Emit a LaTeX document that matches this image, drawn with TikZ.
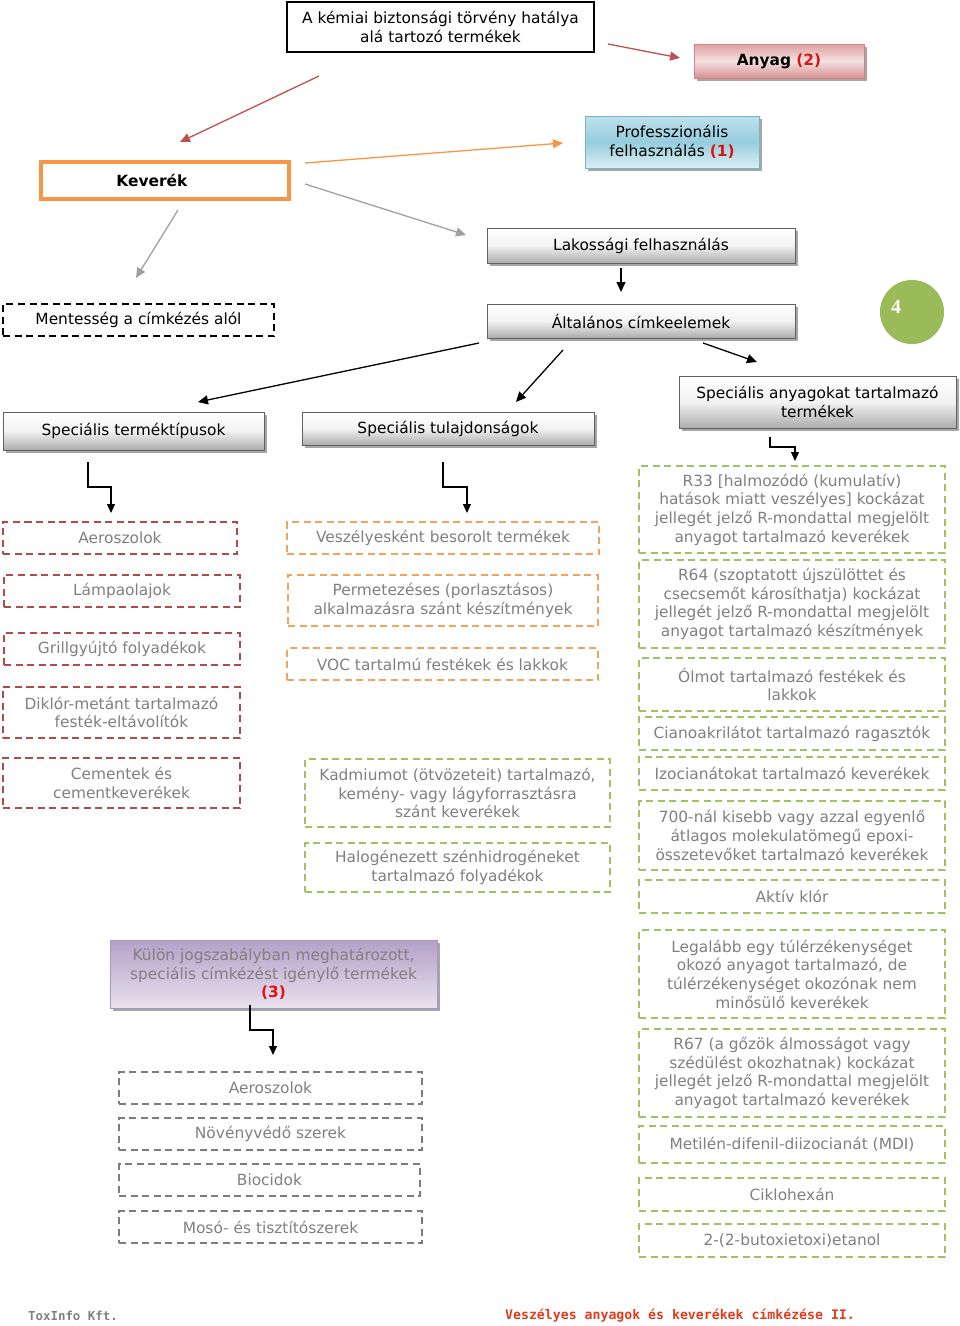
\documentclass[tikz,border=0pt]{standalone}
\usepackage{fontspec}
\setmainfont{DejaVu Sans}
\newfontfamily\footfont{DejaVu Sans Mono}
\newfontfamily\numfont{Liberation Serif}
\usetikzlibrary{arrows.meta,shadows}
\definecolor{redline}{RGB}{192,80,77}
\definecolor{orangeline}{RGB}{247,150,70}
\definecolor{grayline}{RGB}{160,160,160}
\definecolor{txtgray}{RGB}{128,128,128}
\definecolor{dashmaroon}{RGB}{175,75,75}
\definecolor{dashorange}{RGB}{240,165,95}
\definecolor{dashgreen}{RGB}{165,192,100}
\definecolor{dashgray}{RGB}{125,125,125}
\definecolor{numred}{RGB}{220,20,20}
\definecolor{footred}{RGB}{225,60,30}
\definecolor{circgreen}{RGB}{155,187,89}
\newcommand\bx[7]{\node[#2, minimum width={#5pt-#3pt}, minimum height={#6pt-#4pt}] (#1) at ({(#3+#5)/2},{(#4+#6)/2}) {#7};}
\tikzset{
  base/.style={rectangle, align=center, inner sep=0pt, font=\fontsize{15.4}{18.7}\selectfont},
  dbox/.style={base, dash pattern=on 7pt off 4.5pt, line width=1.8pt, text=txtgray},
  redd/.style={dbox, draw=dashmaroon},
  orad/.style={dbox, draw=dashorange},
  grnd/.style={dbox, draw=dashgreen},
  gryd/.style={dbox, draw=dashgray},
  shad/.style={drop shadow={shadow xshift=3pt, shadow yshift=-3pt, fill=black, opacity=0.35}},
  grad/.style={base, shad, draw=gray!75!black, line width=0.8pt, top color=white, bottom color=gray!65, middle color=gray!10},
  pinkbox/.style={base, shad, draw=redline!70, line width=0.8pt, top color={rgb,255:red,222;green,160;blue,160}, bottom color={rgb,255:red,215;green,145;blue,145}, middle color={rgb,255:red,245;green,225;blue,225}},
  bluebox/.style={base, shad, draw={rgb,255:red,120;green,180;blue,200}, line width=0.8pt, top color={rgb,255:red,190;green,225;blue,236}, bottom color={rgb,255:red,220;green,238;blue,244}, middle color={rgb,255:red,150;green,205;blue,222}},
  purpbox/.style={base, shad, text=txtgray, draw={rgb,255:red,170;green,150;blue,195}, line width=0.8pt, top color={rgb,255:red,180;green,160;blue,200}, bottom color={rgb,255:red,232;green,226;blue,238}},
  arr/.style={line width=1.3pt, -{Triangle[length=10pt,width=9pt]}},
  elb/.style={line width=1.2pt, -{Triangle[length=9pt,width=8pt]}}
}
\begin{document}
\begin{tikzpicture}[x=1pt,y=-1pt]
\useasboundingbox (0,0) rectangle (960,1326);
\fill[white] (0,0) rectangle (960,1326);
% top level
\bx{top}{base, draw=black, line width=1.4pt, fill=white}{287}{2}{594}{52}{A kémiai biztonsági törvény hatálya\\alá tartozó termékek}
\bx{anyag}{pinkbox}{694}{44}{864}{78}{\textbf{Anyag \textcolor{numred}{(2)}}}
\bx{prof}{bluebox}{585}{116}{759}{168}{Professzionális\\felhasználás \textbf{\textcolor{numred}{(1)}}}
\bx{kev}{base, draw=orangeline, line width=4pt, fill=white}{41}{162}{289}{199}{\hspace*{-26pt}\textbf{Keverék}}
\bx{lak}{grad}{487}{228}{795}{263}{Lakossági felhasználás}
\bx{ment}{base, draw=black, dash pattern=on 7pt off 4.5pt, line width=1.8pt}{3}{304}{274}{336}{Mentesség a címkézés alól}
\bx{alt}{grad}{487}{304}{795}{338}{Általános címkeelemek}
\node[circle, fill=circgreen, minimum size=64pt, inner sep=0pt] (c4) at (912,312) {};
\node[text=white, font=\numfont\bfseries\fontsize{20}{20}\selectfont] (four) at (896,307) {4};
\bx{sttip}{grad}{3}{412}{264}{450}{Speciális terméktípusok}
\bx{stul}{grad}{302}{412}{594}{445}{Speciális tulajdonságok}
\bx{sany}{grad}{679}{376}{956}{428}{Speciális anyagokat tartalmazó\\termékek}
% left column
\bx{l1}{redd}{3}{522}{237}{554}{Aeroszolok}
\bx{l2}{redd}{4}{575}{240}{607}{Lámpaolajok}
\bx{l3}{redd}{4}{633}{240}{665}{Grillgyújtó folyadékok}
\bx{l4}{redd}{3}{687}{240}{738}{Diklór-metánt tartalmazó\\festék-eltávolítók}
\bx{l5}{redd}{3}{758}{240}{808}{Cementek és\\cementkeverékek}
% middle column
\bx{m1}{orad}{287}{522}{599}{554}{Veszélyesként besorolt termékek}
\bx{m2}{orad}{288}{575}{598}{626}{Permetezéses (porlasztásos)\\alkalmazásra szánt készítmények}
\bx{m3}{orad}{287}{648}{598}{680}{VOC tartalmú festékek és lakkok}
\bx{m4}{grnd}{305}{759}{610}{827}{Kadmiumot (ötvözeteit) tartalmazó,\\kemény- vagy lágyforrasztásra\\szánt keverékek}
\bx{m5}{grnd}{305}{843}{610}{892}{Halogénezett szénhidrogéneket\\tartalmazó folyadékok}
% right column
\bx{r1}{grnd}{639}{466}{945}{553}{R33 [halmozódó (kumulatív)\\hatások miatt veszélyes] kockázat\\jellegét jelző R-mondattal megjelölt\\anyagot tartalmazó keverékek}
\bx{r2}{grnd}{639}{560}{945}{648}{R64 (szoptatott újszülöttet és\\csecsemőt károsíthatja) kockázat\\jellegét jelző R-mondattal megjelölt\\anyagot tartalmazó készítmények}
\bx{r3}{grnd}{639}{658}{945}{711}{Ólmot tartalmazó festékek és\\lakkok}
\bx{r4}{grnd}{639}{717}{945}{750}{Cianoakrilátot tartalmazó ragasztók}
\bx{r5}{grnd}{639}{757}{945}{790}{Izocianátokat tartalmazó keverékek}
\bx{r6}{grnd}{639}{801}{945}{870}{700-nál kisebb vagy azzal egyenlő\\átlagos molekulatömegű epoxi-\\összetevőket tartalmazó keverékek}
\bx{r7}{grnd}{639}{880}{945}{913}{Aktív klór}
\bx{r8}{grnd}{639}{930}{945}{1018}{Legalább egy túlérzékenységet\\okozó anyagot tartalmazó, de\\túlérzékenységet okozónak nem\\minősülő keverékek}
\bx{r9}{grnd}{639}{1029}{945}{1117}{R67 (a gőzök álmosságot vagy\\szédülést okozhatnak) kockázat\\jellegét jelző R-mondattal megjelölt\\anyagot tartalmazó keverékek}
\bx{r10}{grnd}{639}{1126}{945}{1163}{Metilén-difenil-diizocianát (MDI)}
\bx{r11}{grnd}{639}{1178}{945}{1211}{Ciklohexán}
\bx{r12}{grnd}{639}{1224}{945}{1257}{2-(2-butoxietoxi)etanol}
% purple group
\bx{purp}{purpbox}{110}{940}{437}{1008}{Külön jogszabályban meghatározott,\\speciális címkézést igénylő termékek\\\textbf{\textcolor{numred}{(3)}}}
\bx{p1}{gryd}{119}{1072}{422}{1104}{Aeroszolok}
\bx{p2}{gryd}{119}{1118}{422}{1150}{Növényvédő szerek}
\bx{p3}{gryd}{119}{1164}{420}{1196}{Biocidok}
\bx{p4}{gryd}{119}{1211}{422}{1243}{Mosó- és tisztítószerek}
% footer
\node[anchor=west, inner sep=0pt, text=txtgray, font=\footfont\bfseries\fontsize{12.4}{12}\selectfont] (f1) at (28,1316) {ToxInfo Kft.};
\node[anchor=west, inner sep=0pt, text=footred, font=\footfont\bfseries\fontsize{13.2}{13}\selectfont] (f2) at (505,1316) {Veszélyes anyagok és keverékek címkézése II.};
% arrow end points
\coordinate (a1s) at (319,76);  \coordinate (a1e) at (180,142);
\coordinate (a2s) at (608,44);  \coordinate (a2e) at (680,58);
\coordinate (a3s) at (305,163); \coordinate (a3e) at (563,143);
\coordinate (a4s) at (305,184); \coordinate (a4e) at (466,235);
\coordinate (a5s) at (178,210); \coordinate (a5e) at (136,278);
\coordinate (a6s) at (621,268); \coordinate (a6e) at (621,292);
\coordinate (a7s) at (479,343); \coordinate (a7e) at (198,402);
\coordinate (a8s) at (563,350); \coordinate (a8e) at (516,402);
\coordinate (a9s) at (703,343); \coordinate (a9e) at (757,362);
\draw[arr, redline] (a1s) -- (a1e);
\draw[arr, redline] (a2s) -- (a2e);
\draw[arr, orangeline] (a3s) -- (a3e);
\draw[arr, grayline] (a4s) -- (a4e);
\draw[arr, grayline] (a5s) -- (a5e);
\draw[arr, black] (a6s) -- (a6e);
\draw[arr, black] (a7s) -- (a7e);
\draw[arr, black] (a8s) -- (a8e);
\draw[arr, black] (a9s) -- (a9e);
% elbow arrows
\coordinate (e1s) at (88,462);  \coordinate (e1e) at (111,513);
\coordinate (e2s) at (443,462); \coordinate (e2e) at (467,513);
\coordinate (e3s) at (770,437); \coordinate (e3e) at (795,461);
\coordinate (e4s) at (250,1005); \coordinate (e4e) at (273,1055);
\draw[elb] (e1s) -- (88,487) -| (e1e);
\draw[elb] (e2s) -- (443,487) -| (e2e);
\draw[elb] (e3s) -- (770,447) -| (e3e);
\draw[elb] (e4s) -- (250,1030) -| (e4e);
\end{tikzpicture}
\end{document}
